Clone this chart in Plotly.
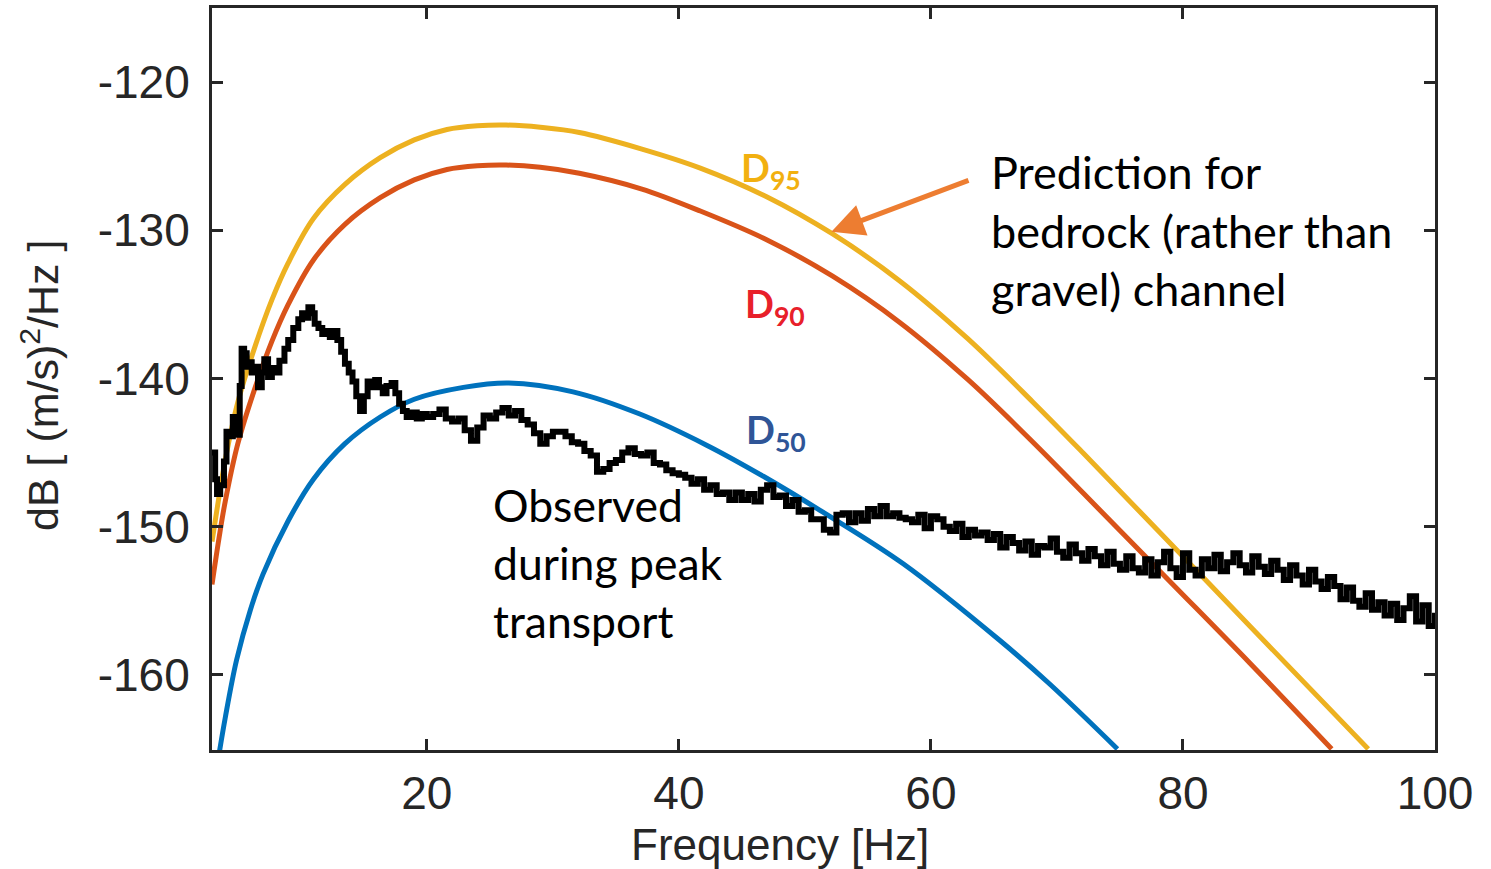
import plotly.graph_objects as go

# predicted spectra
d95_freq = [2.95, 3.5, 4.0, 5.0, 6.3, 7.7, 9.0, 11.0, 13.5, 16.3, 19.0, 21.6, 24.0, 26.3, 29.0, 32.1,
            37.0, 41.7, 47.0, 52.2, 57.5, 62.9, 68.1, 72.1, 79.2, 85.3, 94.7]
d95_db = [-151.0, -148.0, -145.5, -141.6, -138.0, -134.7, -132.2, -129.2, -126.9, -125.1, -123.9, -123.2,
          -122.95, -122.9, -123.05, -123.4, -124.5, -125.8, -127.75, -130.25, -133.4, -137.3, -141.6,
          -145.05, -151.3, -156.7, -165.0]

d90_freq = [2.95, 3.5, 4.0, 5.0, 6.3, 7.7, 9.0, 11.0, 13.5, 16.3, 19.0, 21.6, 24.0, 26.3, 29.0, 32.1,
            37.0, 41.7, 47.0, 52.2, 57.5, 62.9, 68.1, 72.1, 79.2, 85.3, 91.8]
d90_db = [-153.9, -150.8, -148.3, -144.4, -140.8, -137.5, -135.0, -132.0, -129.6, -127.8, -126.6, -125.9,
          -125.65, -125.6, -125.75, -126.15, -127.2, -128.7, -130.65, -133.1, -136.2, -140.05, -144.3,
          -147.75, -153.9, -159.2, -165.0]

d50_freq = [3.5, 4.0, 4.9, 6.0, 7.0, 9.0, 11.0, 13.5, 16.3, 19.0, 22.9, 26.5, 31.6, 36.9, 42.2, 46.7,
            51.2, 57.8, 65.5, 69.4, 74.8]
d50_db = [-165.4, -162.9, -159.0, -155.6, -153.2, -149.6, -146.8, -144.4, -142.6, -141.4, -140.6, -140.3,
          -140.9, -142.4, -144.5, -146.6, -148.9, -152.5, -157.7, -160.6, -165.0]

# observed spectrum during peak transport
obs_freq = [
    2.95, 3.2, 3.35, 3.6, 3.9, 4.1, 4.3, 4.6, 4.8, 5.0,
    5.15, 5.3, 5.5, 5.7, 5.9, 6.1, 6.3, 6.6, 6.9, 7.1,
    7.4, 7.7, 8.0, 8.3, 8.7, 9.0, 9.4, 9.8, 10.1, 10.4,
    10.6, 10.9, 11.1, 11.4, 11.7, 12.0, 12.3, 12.6, 12.9, 13.2,
    13.5, 13.8, 14.1, 14.4, 14.7, 15.0, 15.3, 15.6, 15.9, 16.2,
    16.5, 16.8, 17.2, 17.5, 17.8, 18.1, 18.4, 18.8, 19.2, 19.6,
    20.0,
    20.5, 21.0, 21.5, 22.0, 22.5, 23.0, 23.5, 24.0, 24.5, 25.0,
    25.5, 26.0, 26.5, 27.0, 27.5, 28.0, 28.5, 29.0, 29.5, 30.0,
    30.5, 31.0, 31.5, 32.0, 32.5, 33.0, 33.5, 34.0, 34.5, 35.0,
    35.5, 36.0, 36.5, 37.0, 37.5, 38.0, 38.5, 39.0, 39.5, 40.0,
    40.5, 41.0, 41.5, 42.0, 42.5, 43.0, 43.5, 44.0, 44.5, 45.0,
    45.5, 46.0, 46.5, 47.0, 47.5, 48.0, 48.5, 49.0, 49.5, 50.0,
    50.5, 51.0, 51.5, 52.0, 52.5, 53.0, 53.5, 54.0, 54.5, 55.0,
    55.5, 56.0, 56.5, 57.0, 57.5, 58.0, 58.5, 59.0, 59.5, 60.0,
    60.5, 61.0, 61.5, 62.0, 62.5, 63.0, 63.5, 64.0, 64.5, 65.0,
    65.5, 66.0, 66.5, 67.0, 67.5, 68.0, 68.5, 69.0, 69.5, 70.0,
    70.5, 71.0, 71.5, 72.0, 72.5, 73.0, 73.5, 74.0, 74.5, 75.0,
    75.5, 76.0, 76.5, 77.0, 77.5, 78.0, 78.5, 79.0, 79.5, 80.0,
    80.5, 81.0, 81.5, 82.0, 82.5, 83.0, 83.5, 84.0, 84.5, 85.0,
    85.5, 86.0, 86.5, 87.0, 87.5, 88.0, 88.5, 89.0, 89.5, 90.0,
    90.5, 91.0, 91.5, 92.0, 92.5, 93.0, 93.5, 94.0, 94.5, 95.0,
    95.5, 96.0, 96.5, 97.0, 97.5, 98.0, 98.5, 99.0, 99.5, 100.0,
]
obs_db = [
    -145.0, -146.8, -147.8, -147.2, -145.6, -143.6, -143.9, -142.6, -142.8, -143.8,
    -140.5, -138.0, -138.3, -139.2, -138.9, -139.6, -139.2, -140.6, -139.6, -138.7,
    -139.9, -139.3, -139.6, -138.8, -138.0, -137.4, -136.6, -136.0, -135.6, -135.9,
    -135.2, -135.6, -136.3, -136.6, -137.0, -136.8, -137.2, -136.8, -137.4, -138.2,
    -139.0, -139.6, -140.2, -141.2, -142.2, -141.2, -140.2, -140.6, -140.1, -140.6,
    -141.0, -140.5, -140.3, -141.0, -141.7, -142.2, -142.6, -142.3, -142.7, -142.4,
    -142.6,
    -142.4, -142.1, -142.7, -142.9, -142.7, -143.5, -144.2, -143.3, -142.5, -142.7,
    -142.3, -142.0, -142.5, -142.2, -142.8, -143.1, -143.7, -144.4, -143.9, -143.6,
    -143.6, -143.9, -144.3, -144.4, -144.9, -145.2, -146.3, -146.1, -145.7, -145.5,
    -145.0, -144.7, -145.1, -145.2, -145.0, -145.7, -145.8, -146.2, -146.4, -146.5,
    -146.7, -147.1, -146.8, -147.5, -147.2, -147.8, -147.7, -148.2, -147.7, -148.2,
    -147.8, -148.3, -147.5, -147.2, -148.0, -147.9, -148.6, -148.2, -149.0, -148.9,
    -149.5, -149.5, -150.2, -150.4, -149.2, -149.1, -149.7, -149.1, -149.6, -148.8,
    -149.3, -148.6, -149.3, -149.1, -149.4, -149.5, -149.7, -149.2, -150.1, -149.3,
    -149.5, -150.0, -150.3, -149.8, -150.7, -150.2, -150.6, -150.4, -150.9, -150.5,
    -151.4, -150.7, -151.1, -151.6, -151.0, -151.9, -151.3, -151.4, -150.8, -151.7,
    -152.1, -151.2, -151.8, -152.3, -151.5, -152.0, -152.6, -151.7, -152.5, -152.9,
    -152.0, -152.8, -153.1, -152.2, -153.3, -152.4, -151.7, -152.8, -153.4, -151.8,
    -152.9, -153.3, -152.2, -152.8, -151.9, -153.0, -152.4, -151.8, -152.6, -153.1,
    -152.0, -152.7, -153.2, -152.3, -152.9, -153.6, -152.6, -153.3, -153.9, -152.9,
    -153.7, -154.2, -153.4, -154.0, -154.9, -154.1, -155.0, -155.4, -154.5, -155.6,
    -155.1, -156.0, -155.2, -156.3, -155.5, -154.7, -156.4, -155.3, -156.7, -155.8,
]

x_ticks = [20, 40, 60, 80, 100]
y_ticks = [-120, -130, -140, -150, -160]
y_tick_text = ['-120', '-130', '-140', '-150', '-160']

AXIS_FONT = 'Liberation Sans, Arial, sans-serif'
TEXT_FONT = 'Lato, Open Sans, sans-serif'
INK = '#262626'

fig = go.Figure()
fig.add_trace(go.Scatter(x=d95_freq, y=d95_db, mode='lines',
                         line=dict(color='#EDB120', width=5, shape='spline', smoothing=1.0)))
fig.add_trace(go.Scatter(x=d90_freq, y=d90_db, mode='lines',
                         line=dict(color='#D95319', width=5, shape='spline', smoothing=1.0)))
fig.add_trace(go.Scatter(x=d50_freq, y=d50_db, mode='lines',
                         line=dict(color='#0072BD', width=5, shape='spline', smoothing=1.0)))
fig.add_trace(go.Scatter(x=obs_freq, y=obs_db, mode='lines',
                         line=dict(color='black', width=6, shape='hv')))

axis_common = dict(
    showgrid=False, zeroline=False, showline=True, linecolor=INK, linewidth=3,
    mirror='allticks', ticks='inside', ticklen=11, tickwidth=3, tickcolor=INK,
    tickfont=dict(family=AXIS_FONT, size=46, color=INK), automargin=False,
)
fig.update_xaxes(range=[2.95, 100], tickvals=x_ticks, ticklabelstandoff=1, **axis_common)
fig.update_yaxes(range=[-165.07, -115], tickvals=y_ticks, ticktext=y_tick_text,
                 ticklabelstandoff=10, **axis_common)

# axis titles as annotations so they sit where the original has them
fig.add_annotation(x=0.4644, y=-0.128, xref='paper', yref='paper', text='Frequency [Hz]',
                   showarrow=False, xanchor='center', yanchor='middle',
                   font=dict(family=AXIS_FONT, size=44, color=INK))
fig.add_annotation(x=-0.1406, y=0.492, xref='paper', yref='paper', text='dB [ (m/s)<sup>2</sup>/Hz ]',
                   showarrow=False, textangle=-90, xanchor='center', yanchor='middle',
                   font=dict(family=AXIS_FONT, size=43, color=INK))

# curve labels
labels = [
    ('D<sub>95</sub>', 44.8, -125.9, '#F2B010'),
    ('D<sub>90</sub>', 45.1, -135.1, '#E8202A'),
    ('D<sub>50</sub>', 45.2, -143.6, '#2F5597'),
]
for txt, fx, fy, col in labels:
    fig.add_annotation(x=fx, y=fy, text=f'<b>{txt}</b>', showarrow=False, xanchor='left', yanchor='middle',
                       font=dict(family=TEXT_FONT, size=38, color=col))

fig.add_annotation(x=25.1, y=-152.4, text='Observed<br>during peak<br>transport', showarrow=False,
                   xanchor='left', yanchor='middle', align='left',
                   font=dict(family=TEXT_FONT, size=44.5, color='black'))
fig.add_annotation(x=64.6, y=-130.0, text='Prediction for<br>bedrock (rather than<br>gravel) channel',
                   showarrow=False, xanchor='left', yanchor='middle', align='left',
                   font=dict(family=TEXT_FONT, size=45, color='black'))

# orange arrow pointing at the prediction curves
fig.add_annotation(x=52.1, y=-130.1, ax=63.1, ay=-126.6, xref='x', yref='y', axref='x', ayref='y',
                   text='', showarrow=True, arrowhead=2, arrowsize=1.3, arrowwidth=5, arrowcolor='#ED7D31')

fig.update_layout(
    width=1491, height=869, showlegend=False,
    margin=dict(l=212, r=56, t=8, b=119),
    plot_bgcolor='white', paper_bgcolor='white',
)
# drop the browser's default 8px body margin so the figure fills the window exactly
fig.write_html('out.html', config={'displayModeBar': False},
               post_script="document.body.style.margin = '0px';")
